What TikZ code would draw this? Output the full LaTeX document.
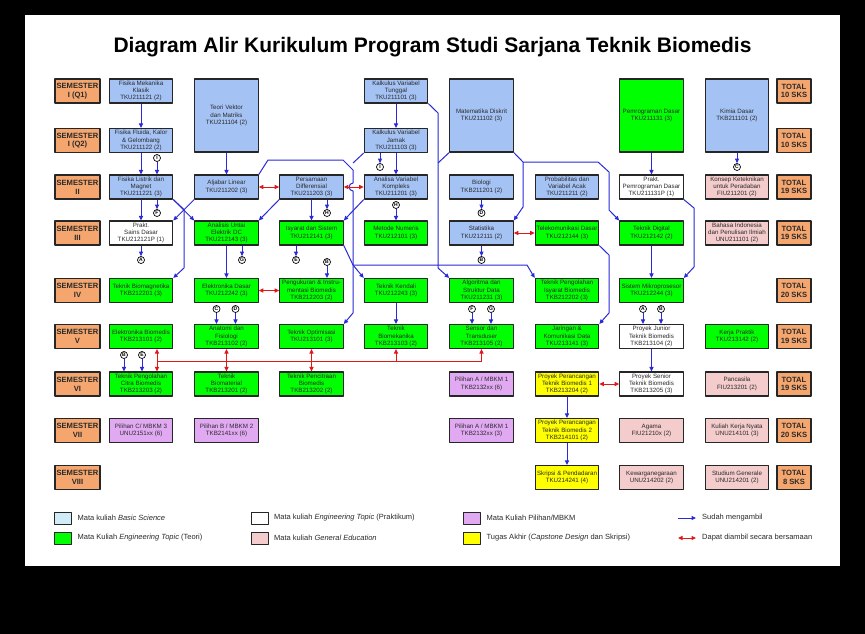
\documentclass[tikz,border=0pt]{standalone}
\usepackage{fontspec}
\setmainfont{Liberation Sans}
\usetikzlibrary{arrows.meta,positioning}
\definecolor{kbSem}{HTML}{F5A66E}
\definecolor{kbBlue}{HTML}{A4C2F4}
\definecolor{kbGreen}{HTML}{00FF00}
\definecolor{kbPink}{HTML}{F4CCCC}
\definecolor{kbPurple}{HTML}{E2A9F3}
\definecolor{kbYellow}{HTML}{FFFF00}
\definecolor{kbCyan}{HTML}{D0ECF6}
\definecolor{kbLine}{HTML}{262626}
\definecolor{kbText}{HTML}{2A2A2A}
\definecolor{kbArrow}{HTML}{2A2AD8}
\definecolor{kbRed}{HTML}{E01818}
\newcommand\coursefont{\fontsize{6.2}{7.3}\selectfont}
\newcommand\semfont{\fontsize{7.6}{8.7}\selectfont\bfseries}
\newcommand\legendfont{\fontsize{7.5}{8.5}\selectfont}
\newcommand\titlefont{\fontsize{21}{24}\selectfont\bfseries}

\begin{document}
\begin{tikzpicture}[x=1pt, y=-1pt, >={Triangle[length=4.5pt,width=4pt]},
    line join=round,
    course/.style={draw=kbLine, line width=1.05pt, minimum width=63.5pt,
      minimum height=24pt, inner sep=0pt, align=center, font=\coursefont,
      text=kbText},
    tall/.style={course, minimum height=73pt},
    basic/.style={course, fill=kbBlue},
    teori/.style={course, fill=kbGreen},
    prakt/.style={course, fill=white},
    gened/.style={course, fill=kbPink},
    pilih/.style={course, fill=kbPurple},
    capst/.style={course, fill=kbYellow},
    semlabel/.style={draw=kbLine, line width=1.05pt, fill=kbSem,
      minimum width=45pt, minimum height=24pt, inner sep=0pt, align=center,
      font=\semfont, text=kbText},
    totlabel/.style={semlabel, minimum width=34pt},
    offpg/.style={circle, draw=black, line width=0.7pt, fill=white,
      minimum size=7pt, inner sep=0pt, font=\fontsize{5}{5}\selectfont\bfseries},
    pre/.style={->, draw=kbArrow, line width=1pt},
    both/.style={<->, draw=kbRed, line width=1pt},
    swatch/.style={draw=kbLine, line width=0.8pt, minimum width=17pt,
      minimum height=12pt, inner sep=0pt},
    legtext/.style={font=\legendfont, text=kbText, inner sep=0pt}]
  % ── page ──────────────────────────────────────────────────────────────
  \fill[black] (0,0) rectangle (865,634);
  \fill[white] (25,15) rectangle (840,566);
  \useasboundingbox (0,0) rectangle (865,634);
  \node[font=\titlefont] (title) at (432.5,47)
    {Diagram Alir Kurikulum Program Studi Sarjana Teknik Biomedis};

  % ── semester labels and totals ────────────────────────────────────────
  \node[semlabel] (s1a) at (77.5,91)    {SEMESTER\\I (Q1)};
  \node[semlabel] (s1b) at (77.5,140.5) {SEMESTER\\I (Q2)};
  \node[semlabel] (s2)  at (77.5,187)   {SEMESTER\\II};
  \node[semlabel] (s3)  at (77.5,233)   {SEMESTER\\III};
  \node[semlabel] (s4)  at (77.5,290.5) {SEMESTER\\IV};
  \node[semlabel] (s5)  at (77.5,336.5) {SEMESTER\\V};
  \node[semlabel] (s6)  at (77.5,384)   {SEMESTER\\VI};
  \node[semlabel] (s7)  at (77.5,430.5) {SEMESTER\\VII};
  \node[semlabel] (s8)  at (77.5,477.5) {SEMESTER\\VIII};
  \node[totlabel] (t1a) at (794,91)    {TOTAL\\10 SKS};
  \node[totlabel] (t1b) at (794,140.5) {TOTAL\\10 SKS};
  \node[totlabel] (t2)  at (794,187)   {TOTAL\\19 SKS};
  \node[totlabel] (t3)  at (794,233)   {TOTAL\\19 SKS};
  \node[totlabel] (t4)  at (794,290.5) {TOTAL\\20 SKS};
  \node[totlabel] (t5)  at (794,336.5) {TOTAL\\19 SKS};
  \node[totlabel] (t6)  at (794,384)   {TOTAL\\19 SKS};
  \node[totlabel] (t7)  at (794,430.5) {TOTAL\\20 SKS};
  \node[totlabel] (t8)  at (794,477.5) {TOTAL\\8 SKS};

  % ── semester I ────────────────────────────────────────────────────────
  \node[basic] (fmk) at (141,91)      {Fisika Mekanika\\Klasik\\TKU211121 (2)};
  \node[basic] (ffg) at (141,140.5)   {Fisika Fluida, Kalor\\\& Gelombang\\TKU211122 (2)};
  \node[basic, tall] (tvm) at (226.5,115.5) {Teori Vektor\\dan Matriks\\TKU211104 (2)};
  \node[basic] (kvt) at (396,91)      {Kalkulus Variabel\\Tunggal\\TKU211101 (3)};
  \node[basic] (kvj) at (396,140.5)   {Kalkulus Variabel\\Jamak\\TKU211103 (3)};
  \node[basic, tall] (mdk) at (481.5,115.5) {Matematika Diskrit\\TKU211102 (3)};
  \node[teori, tall] (pgd) at (651.5,115.5) {Pemrograman Dasar\\TKU211131 (3)};
  \node[basic, tall] (kmd) at (737,115.5)   {Kimia Dasar\\TKB211101 (2)};

  % ── semester II ───────────────────────────────────────────────────────
  \node[basic] (flm) at (141,187)   {Fisika Listrik dan\\Magnet\\TKU211221 (3)};
  \node[basic] (alj) at (226.5,187) {Aljabar Linear\\TKU211202 (3)};
  \node[basic] (pdf) at (311.5,187) {Persamaan\\Differensial\\TKU211203 (3)};
  \node[basic] (avk) at (396,187)   {Analisa Variabel\\Kompleks\\TKU211201 (3)};
  \node[basic] (bio) at (481.5,187) {Biologi\\TKB211201 (2)};
  \node[basic] (pva) at (567,187)   {Probabilitas dan\\Variabel Acak\\TKU211211 (2)};
  \node[prakt] (ppd) at (651.5,187) {Prakt.\\Pemrograman Dasar\\TKU211131P (1)};
  \node[gened] (kkp) at (737,187)   {Konsep Keteknikan\\untuk Peradaban\\FIU211201 (2)};

  % ── semester III ──────────────────────────────────────────────────────
  \node[prakt] (psd) at (141,233)   {Prakt.\\Sains Dasar\\TKU212121P (1)};
  \node[teori] (aue) at (226.5,233) {Analisis Untai\\Elektrik DC\\TKU212143 (3)};
  \node[teori] (ies) at (311.5,233) {Isyarat dan Sistem\\TKU212141 (3)};
  \node[teori] (mnu) at (396,233)   {Metode Numeris\\TKU212101 (3)};
  \node[basic] (sta) at (481.5,233) {Statistika\\TKU212111 (2)};
  \node[teori] (tkd) at (567,233)   {Telekomunikasi Dasar\\TKU212144 (3)};
  \node[teori] (tdg) at (651.5,233) {Teknik Digital\\TKU212142 (2)};
  \node[gened] (bip) at (737,233)   {Bahasa Indonesia\\dan Penulisan Ilmiah\\UNU211101 (2)};

  % ── semester IV ───────────────────────────────────────────────────────
  \node[teori] (tbm) at (141,290.5)   {Teknik Biomagnetika\\TKB212201 (3)};
  \node[teori] (eld) at (226.5,290.5) {Elektronika Dasar\\TKU212242 (3)};
  \node[teori] (pib) at (311.5,290.5) {Pengukuran \& Instru-\\mentasi Biomedis\\TKB212203 (2)};
  \node[teori] (tkn) at (396,290.5)   {Teknik Kendali\\TKU212243 (3)};
  \node[teori] (asd) at (481.5,290.5) {Algoritma dan\\Struktur Data\\TKU211231 (3)};
  \node[teori] (tpi) at (567,290.5)   {Teknik Pengolahan\\Isyarat Biomedis\\TKB212202 (3)};
  \node[teori] (smp) at (651.5,290.5) {Sistem Mikroprosesor\\TKU212244 (3)};

  % ── semester V ────────────────────────────────────────────────────────
  \node[teori] (ebm) at (141,336.5)   {Elektronika Biomedis\\TKB213101 (2)};
  \node[teori] (anf) at (226.5,336.5) {Anatomi dan\\Fisiologi\\TKB213102 (2)};
  \node[teori] (top) at (311.5,336.5) {Teknik Optimisasi\\TKU213101 (3)};
  \node[teori] (tbk) at (396,336.5)   {Teknik\\Biomekanika\\TKB213103 (2)};
  \node[teori] (sdt) at (481.5,336.5) {Sensor dan\\Transduser\\TKB213105 (2)};
  \node[teori] (jkd) at (567,336.5)   {Jaringan \&\\Komunikasi Data\\TKU213141 (3)};
  \node[prakt] (pjr) at (651.5,336.5) {Proyek Junior\\Teknik Biomedis\\TKB213104 (2)};
  \node[teori] (kpr) at (737,336.5)   {Kerja Praktik\\TKU213142 (2)};

  % ── semester VI ───────────────────────────────────────────────────────
  \node[teori] (tpc)  at (141,384)   {Teknik Pengolahan\\Citra Biomedis\\TKB213203 (2)};
  \node[teori] (tbt)  at (226.5,384) {Teknik\\Biomaterial\\TKB213201 (2)};
  \node[teori] (tpb)  at (311.5,384) {Teknik Pencitraan\\Biomedis\\TKB213202 (2)};
  \node[pilih] (pla1) at (481.5,384) {Pilihan A / MBKM 1\\TKB2132xx (6)};
  \node[capst] (ppr1) at (567,384)   {Proyek Perancangan\\Teknik Biomedis 1\\TKB213204 (2)};
  \node[prakt] (psr)  at (651.5,384) {Proyek Senior\\Teknik Biomedis\\TKB213205 (3)};
  \node[gened] (pcs)  at (737,384)   {Pancasila\\FIU213201 (2)};

  % ── semester VII ──────────────────────────────────────────────────────
  \node[pilih] (plc)  at (141,430.5)   {Pilihan C/ MBKM 3\\UNU2151xx (6)};
  \node[pilih] (plb)  at (226.5,430.5) {Pilihan B / MBKM 2\\TKB2141xx (6)};
  \node[pilih] (pla2) at (481.5,430.5) {Pilihan A / MBKM 1\\TKB2132xx (3)};
  \node[capst] (ppr2) at (567,430.5)   {Proyek Perancangan\\Teknik Biomedis 2\\TKB214101 (2)};
  \node[gened] (agm)  at (651.5,430.5) {Agama\\FIU21210x (2)};
  \node[gened] (kkn)  at (737,430.5)   {Kuliah Kerja Nyata\\UNU214101 (3)};

  % ── semester VIII ─────────────────────────────────────────────────────
  \node[capst] (skp) at (567,477.5)   {Skripsi \& Pendadaran\\TKU214241 (4)};
  \node[gened] (kwn) at (651.5,477.5) {Kewarganegaraan\\UNU214202 (2)};
  \node[gened] (stg) at (737,477.5)   {Studium Generale\\UNU214201 (2)};

  % ── off-page connectors ───────────────────────────────────────────────
  \node[offpg] (xI)  at (380,167)   {I};
  \node[offpg] (oI)  at (157,158)   {I};
  \node[offpg] (xC)  at (737,167)   {C};
  \node[offpg] (xF)  at (157,213)   {F};
  \node[offpg] (xH)  at (327,213)   {H};
  \node[offpg] (oH)  at (396,205)   {H};
  \node[offpg] (xD)  at (481.5,213) {D};
  \node[offpg] (xA)  at (141,260)   {A};
  \node[offpg] (xG)  at (242,260)   {G};
  \node[offpg] (xE)  at (296,260)   {E};
  \node[offpg] (xB)  at (481.5,260) {B};
  \node[offpg] (oB1) at (327,262)   {B};
  \node[offpg] (oC)  at (216.5,309) {C};
  \node[offpg] (oD)  at (235.5,309) {D};
  \node[offpg] (oF)  at (472,309)   {F};
  \node[offpg] (oG)  at (491,309)   {G};
  \node[offpg] (oA)  at (643,309)   {A};
  \node[offpg] (oB2) at (661,309)   {B};
  \node[offpg] (oB3) at (124,355)   {B};
  \node[offpg] (oE)  at (142,355)   {E};

  % ── prerequisites (blue) ──────────────────────────────────────────────
  \draw[pre] (fmk) -- (ffg);
  \draw[pre] (ffg) -- (flm);
  \draw[pre] (tvm) -- (alj);
  \draw[pre] (kvt) -- (kvj);
  \draw[pre] (kvj) -- (avk);
  \draw[pre] (pgd) -- (ppd);
  \draw[pre] (flm) -- (psd);
  \draw[pre] (pdf) -- (ies);
  \draw[pre] (aue) -- (eld);
  \draw[pre] (tdg) -- (smp);
  \draw[pre] (tkn) -- (tbk);
  \draw[pre] (pjr) -- (psr);
  \draw[pre] (ppr1) -- (ppr2);
  \draw[pre] (ppr2) -- (skp);
  % into / out of the circles
  \draw[pre] (xI |- kvj.south) -- (xI);
  \draw[pre] (oI) -- (oI |- flm.north);
  \draw[pre] (kmd) -- (xC);
  \draw[pre] (xF |- flm.south) -- (xF);
  \draw[pre] (xH |- pdf.south) -- (xH);
  \draw[pre] (oH) -- (mnu);
  \draw[pre] (bio) -- (xD);
  \draw[pre] (psd) -- (xA);
  \draw[pre] (xG |- aue.south) -- (xG);
  \draw[pre] (xE |- ies.south) -- (xE);
  \draw[pre] (sta) -- (xB);
  \draw[pre] (oB1) -- (oB1 |- pib.north);
  \draw[pre] (oC) -- (oC |- anf.north);
  \draw[pre] (oD) -- (oD |- anf.north);
  \draw[pre] (oF) -- (oF |- sdt.north);
  \draw[pre] (oG) -- (oG |- sdt.north);
  \draw[pre] (oA) -- (oA |- pjr.north);
  \draw[pre] (oB2) -- (oB2 |- pjr.north);
  \draw[pre] (oB3) -- (oB3 |- tpc.north);
  \draw[pre] (oE) -- (oE |- tpc.north);
  % routed lines (the one at x=353 hops over the red arrow)
  \draw[pre] (flm.south east) -- (aue.north west);
  \draw[pre] (alj.south west) -- (psd.north east);
  \draw[pre] (flm.south east) -- (184,209.5) -- (184,268) -- (tbm.north east);
  \draw[pre] (pdf.south west) -- (aue.north east);
  \draw[pre] (avk.south west) -- (ies.north east);
  \draw[pre] (alj.north east) -- (268,160) -- (343,160) -- (353,170)
    -- (353,183) .. controls (348,183) and (348,191) .. (353,191)
    -- (353,313) -- (top.north east);
  \draw[kbArrow, line width=1pt] (kvj.south west) -- (353,163);
  \draw[pre] (kvt.south east) -- (438,113) -- (438,268) -- (asd.north west);
  \draw[kbArrow, line width=1pt] (mdk.south west) -- (438,163);
  \draw[pre] (mdk.south east) -- (523,162) -- (598,162) -- (609,172)
    -- (609,210) -- (tdg.north west);
  \draw[pre] (523,162) -- (523,207) -- (sta.north east);
  \draw[pre] (ies.south east) -- (353,265) -- (tkn.north west);
  \draw[pre] (353,265) -- (527,265) -- (tpi.north west);
  \draw[pre] (tkd.south east) -- (609,255) -- (609,313) -- (jkd.north east);
  \draw[pre] (ppd.south east) -- (694,208) -- (694,267) -- (smp.north east);

  % ── may be taken together (red) ───────────────────────────────────────
  \draw[both] (alj) -- (pdf);
  \draw[both] (pdf) -- (avk);
  \draw[both] (sta) -- (tkd);
  \draw[both] (eld) -- (pib);
  \draw[both] (ppr1) -- (psr);
  \coordinate (busL) at (157,361);
  \coordinate (busR) at (481.5,361);
  \draw[kbRed, line width=1pt] (busL) -- (busR);
  \draw[both] (busL |- ebm.south) -- (busL |- tpc.north);
  \draw[both] (anf) -- (tbt);
  \draw[both] (top) -- (tpb);
  \draw[->, kbRed, line width=1pt] (tbk.south |- busL) -- (tbk.south);
  \draw[->, kbRed, line width=1pt] (busR) -- (sdt.south);

  % ── legend ────────────────────────────────────────────────────────────
  \node[swatch, fill=kbCyan]   (lg1) at (62.5,518) {};
  \node[swatch, fill=kbGreen]  (lg2) at (62.5,538) {};
  \node[swatch, fill=white]    (lg3) at (260,518)  {};
  \node[swatch, fill=kbPink]   (lg4) at (260,538)  {};
  \node[swatch, fill=kbPurple] (lg5) at (471.5,518) {};
  \node[swatch, fill=kbYellow] (lg6) at (471.5,538) {};
  \node[legtext, right=6pt of lg1] (lt1) {Mata kuliah \textit{Basic Science}};
  \node[legtext, right=6pt of lg2] (lt2) {Mata Kuliah \textit{Engineering Topic} (Teori)};
  \node[legtext, right=5pt of lg3] (lt3) {Mata kuliah \textit{Engineering Topic} (Praktikum)};
  \node[legtext, right=5pt of lg4] (lt4) {Mata kuliah \textit{General Education}};
  \node[legtext, right=6pt of lg5] (lt5) {Mata Kuliah Pilihan/MBKM};
  \node[legtext, right=6pt of lg6] (lt6) {Tugas Akhir (\textit{Capstone Design} dan Skripsi)};
  \coordinate (la1) at (678,518);
  \coordinate (la2) at (696,518);
  \coordinate (lb1) at (678,538);
  \coordinate (lb2) at (696,538);
  \draw[pre] (la1) -- (la2);
  \draw[both] (lb1) -- (lb2);
  \node[legtext, anchor=west] (lt7) at (702,518) {Sudah mengambil};
  \node[legtext, anchor=west] (lt8) at (702,538) {Dapat diambil secara bersamaan};
\end{tikzpicture}
\end{document}
